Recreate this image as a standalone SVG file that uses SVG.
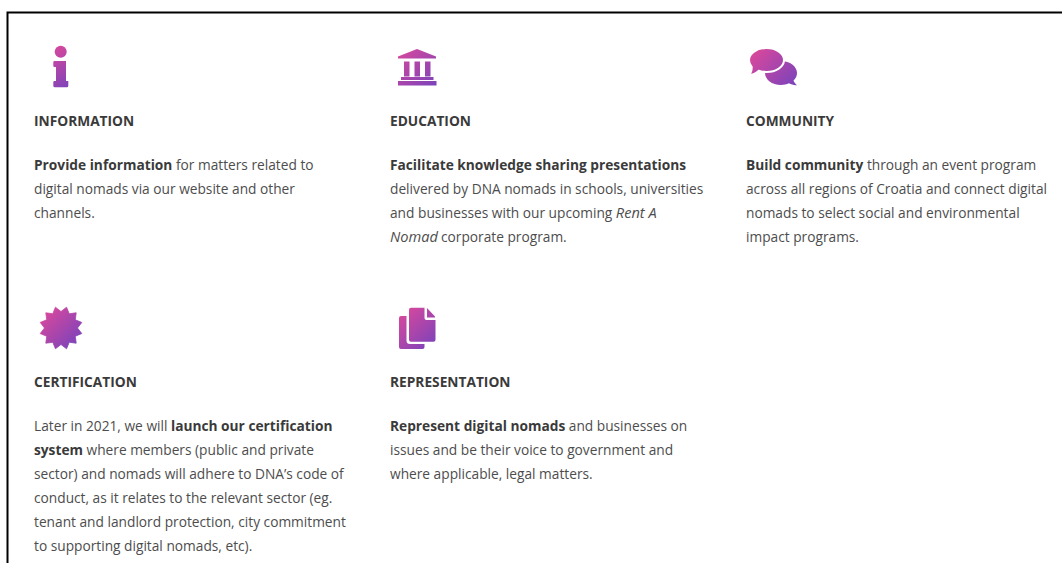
<svg xmlns="http://www.w3.org/2000/svg" width="1062" height="563" viewBox="0 0 1062 563">
<style>
text{font-family:"Open Sans","Noto Sans",sans-serif;font-size:13.72px;fill:#4d4d4d}
.h{font-weight:700;fill:#3a3a3a}
.b{font-weight:700;fill:#3a3a3a}
.i{font-style:italic;font-size:14.6px}
</style>
<defs>
<linearGradient id="gi" gradientUnits="userSpaceOnUse" x1="50" y1="48" x2="72" y2="88"><stop offset="0" stop-color="#d9489c"/><stop offset="1" stop-color="#7a43bb"/></linearGradient>
<linearGradient id="gb" gradientUnits="userSpaceOnUse" x1="400" y1="48" x2="434" y2="88"><stop offset="0" stop-color="#d9489c"/><stop offset="1" stop-color="#7a43bb"/></linearGradient>
<linearGradient id="gc" gradientUnits="userSpaceOnUse" x1="755" y1="50" x2="795" y2="86"><stop offset="0" stop-color="#d9489c"/><stop offset="1" stop-color="#7a43bb"/></linearGradient>
<linearGradient id="gs" gradientUnits="userSpaceOnUse" x1="44" y1="311" x2="78" y2="345"><stop offset="0" stop-color="#d9489c"/><stop offset="1" stop-color="#7a43bb"/></linearGradient>
<linearGradient id="gd" gradientUnits="userSpaceOnUse" x1="402" y1="310" x2="436" y2="346"><stop offset="0" stop-color="#d9489c"/><stop offset="1" stop-color="#7a43bb"/></linearGradient>
</defs>
<rect width="1062" height="563" fill="#fff"/>
<path d="M7.500 563V12.500H1062" fill="none" stroke="#000" stroke-width="2"/>
<g id="information">
<g fill="url(#gi)"><circle cx="60.700" cy="51.800" r="6"/><path d="M54.500 61H66V81H68.300V85.800Q68.300 87.300 66.800 87.300H54.800Q53.300 87.300 53.300 85.800V82.300Q53.300 81 54.500 81H56V67H54.500Q53.300 67 53.300 65.800V62.200Q53.300 61 54.500 61Z"/></g>
<text class="h" x="34" y="125.500">INFORMATION</text>
<text x="34" y="170"><tspan class="b">Provide information</tspan> for matters related to</text>
<text x="34" y="194">digital nomads via our website and other</text>
<text x="34" y="218">channels.</text>
</g>
<g id="education">
<g fill="url(#gb)"><path d="M417 49L436 56.500V58.500H398V56.500Z"/><rect x="404" y="61.500" width="5.500" height="15"/><rect x="414.500" y="61.500" width="5.500" height="15"/><rect x="425" y="61.500" width="5.500" height="15"/><rect x="401" y="77" width="32.500" height="3"/><rect x="398" y="81" width="38.500" height="4.500"/></g>
<text class="h" x="390" y="125.500">EDUCATION</text>
<text x="390" y="170" class="b">Facilitate knowledge sharing presentations</text>
<text x="390" y="194">delivered by DNA nomads in schools, universities</text>
<text x="390" y="218">and businesses with our upcoming <tspan class="i">Rent A</tspan></text>
<text x="390" y="242"><tspan class="i">Nomad</tspan><tspan x="441">corporate program.</tspan></text>
</g>
<g id="community">
<path fill="url(#gc)" d="M781 61C790 61 797 66.500 797 73C797 76 795.500 78.500 793.500 80.500C794 82.300 795.500 84 797 85.200C794 85.500 791 84.500 789 83.300C786.500 84.500 784 85 781 85C772 85 765 79.500 765 73C765 66.500 772 61 781 61Z"/>
<path fill="url(#gc)" stroke="#fff" stroke-width="2" d="M766.500 48C776.500 48 784 53.500 784 60C784 67 776 72 766.500 72C763.500 72 761 71.600 758.800 70.800C756.500 73 753 75 749 75C750.800 73 751.800 70.500 751.700 67C750 65 749 62.500 749 60C749 53.500 756.500 48 766.500 48Z"/>
<text class="h" x="746" y="125.500">COMMUNITY</text>
<text x="746" y="170"><tspan class="b">Build community</tspan> through an event program</text>
<text x="746" y="194">across all regions of Croatia and connect digital</text>
<text x="746" y="218">nomads to select social and environmental</text>
<text x="746" y="242">impact programs.</text>
</g>
<g id="certification">
<path fill="url(#gs)" stroke="url(#gs)" stroke-width="0.800" stroke-linejoin="round" d="M61 311.500L66.560 307.230L69.250 313.710L76.200 312.800L75.290 319.750L81.770 322.440L77.500 328L81.770 333.560L75.290 336.250L76.200 343.200L69.250 342.290L66.560 348.770L61 344.500L55.440 348.770L52.750 342.290L45.800 343.200L46.710 336.250L40.230 333.560L44.500 328L40.230 322.440L46.710 319.750L45.800 312.800L52.750 313.710L55.440 307.230Z"/>
<text class="h" x="34" y="386.500">CERTIFICATION</text>
<text x="34" y="431">Later in 2021, we will <tspan class="b">launch our certification</tspan></text>
<text x="34" y="455"><tspan class="b">system</tspan> where members (public and private</text>
<text x="34" y="479">sector) and nomads will adhere to DNA’s code of</text>
<text x="34" y="503">conduct, as it relates to the relevant sector (eg.</text>
<text x="34" y="527">tenant and landlord protection, city commitment</text>
<text x="34" y="551">to supporting digital nomads, etc).</text>
</g>
<g id="representation">
<g fill="url(#gd)"><path d="M401 316H406.500V340.500Q406.500 344 410 344H424.500V347Q424.500 349 422.500 349H401Q399 349 399 347V318Q399 316 401 316Z"/><path d="M411 307.700H424.500V318Q424.500 320 426.500 320H435.500V339.700Q435.500 341.700 433.500 341.700H411Q409 341.700 409 339.700V309.700Q409 307.700 411 307.700Z"/><path d="M427 308L435 316.500V317.500H427Z"/></g>
<text class="h" x="390" y="386.500">REPRESENTATION</text>
<text x="390" y="431"><tspan class="b">Represent digital nomads</tspan> and businesses on</text>
<text x="390" y="455">issues and be their voice to government and</text>
<text x="390" y="479">where applicable, legal matters.</text>
</g>
</svg>
